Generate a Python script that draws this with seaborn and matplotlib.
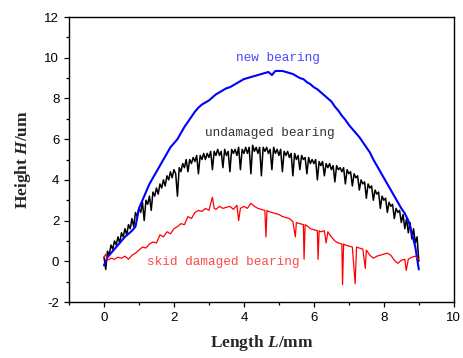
import matplotlib
matplotlib.use('Agg')
import matplotlib.pyplot as plt
from matplotlib.ticker import MultipleLocator
import seaborn as sns

# surface profile of three bearings

# undamaged bearing (black)
black_x = [0.00, 0.05, 0.10, 0.15, 0.20, 0.25, 0.30, 0.35, 0.40, 0.45,
           0.50, 0.55, 0.60, 0.65, 0.70, 0.75, 0.80, 0.85, 0.90, 0.95,
           1.00, 1.05, 1.10, 1.15, 1.20, 1.25, 1.30, 1.35, 1.40, 1.45,
           1.50, 1.55, 1.60, 1.65, 1.70, 1.75, 1.80, 1.85, 1.90, 1.95,
           2.00, 2.05, 2.10, 2.15, 2.20, 2.25, 2.30, 2.35, 2.40, 2.45,
           2.50, 2.55, 2.60, 2.65, 2.70, 2.75, 2.80, 2.85, 2.90, 2.95,
           3.00, 3.05, 3.10, 3.15, 3.20, 3.25, 3.30, 3.35, 3.40, 3.45,
           3.50, 3.55, 3.60, 3.65, 3.70, 3.75, 3.80, 3.85, 3.90, 3.95,
           4.00, 4.05, 4.10, 4.15, 4.20, 4.25, 4.30, 4.35, 4.40, 4.45,
           4.50, 4.55, 4.60, 4.65, 4.70, 4.75, 4.80, 4.85, 4.90, 4.95,
           5.00, 5.05, 5.10, 5.15, 5.20, 5.25, 5.30, 5.35, 5.40, 5.45,
           5.50, 5.55, 5.60, 5.65, 5.70, 5.75, 5.80, 5.85, 5.90, 5.95,
           6.00, 6.05, 6.10, 6.15, 6.20, 6.25, 6.30, 6.35, 6.40, 6.45,
           6.50, 6.55, 6.60, 6.65, 6.70, 6.75, 6.80, 6.85, 6.90, 6.95,
           7.00, 7.05, 7.10, 7.15, 7.20, 7.25, 7.30, 7.35, 7.40, 7.45,
           7.50, 7.55, 7.60, 7.65, 7.70, 7.75, 7.80, 7.85, 7.90, 7.95,
           8.00, 8.05, 8.10, 8.15, 8.20, 8.25, 8.30, 8.35, 8.40, 8.45,
           8.50, 8.55, 8.60, 8.65, 8.70, 8.75, 8.80, 8.85, 8.90, 8.95,
           9.00]
black_h = [0.2, -0.4, 0.5, 0.3, 0.8, 0.6, 1.0, 0.8, 1.2, 0.9,
           1.4, 1.2, 1.6, 1.3, 1.8, 1.6, 2.1, 1.7, 2.4, 2.2,
           2.6, 2.4, 2.9, 2.0, 3.0, 2.8, 3.2, 2.5, 3.4, 3.2,
           3.6, 3.3, 3.8, 3.6, 4.0, 3.7, 4.2, 4.0, 4.4, 4.1,
           4.5, 4.3, 3.2, 4.6, 4.4, 4.8, 4.6, 5.0, 4.4, 5.0,
           4.8, 5.1, 4.9, 5.2, 4.3, 5.2, 5.0, 5.3, 5.0, 5.3,
           5.1, 5.4, 4.5, 5.4, 5.2, 5.5, 5.2, 5.4, 4.6, 5.5,
           5.2, 5.4, 4.4, 5.5, 5.3, 5.5, 5.2, 5.6, 4.5, 5.5,
           5.3, 5.6, 5.3, 5.6, 4.3, 5.7, 5.4, 5.6, 5.3, 5.6,
           4.2, 5.6, 5.4, 5.6, 5.3, 5.5, 4.5, 5.6, 5.3, 5.5,
           5.2, 5.5, 4.4, 5.4, 5.2, 5.4, 5.1, 5.3, 4.2, 5.3,
           5.0, 5.2, 4.5, 5.2, 5.0, 5.1, 4.3, 5.1, 4.8, 5.0,
           4.8, 5.0, 4.0, 4.9, 4.7, 4.9, 4.2, 4.8, 4.6, 4.8,
           4.5, 4.7, 3.9, 4.7, 4.5, 4.6, 4.4, 4.6, 3.8, 4.5,
           4.3, 4.4, 3.7, 4.3, 4.1, 4.2, 3.5, 4.0, 3.8, 3.9,
           3.1, 3.8, 3.6, 3.7, 3.0, 3.5, 3.3, 3.4, 2.6, 3.2,
           3.0, 3.1, 2.4, 2.9, 2.7, 2.8, 2.1, 2.6, 2.4, 2.5,
           1.9, 2.3, 1.6, 2.1, 1.4, 1.9, 1.1, 1.6, 0.9, 1.2,
           0.0]

# new bearing (blue)
blue_x = [0.0, 0.1, 0.2, 0.3, 0.4, 0.5, 0.6, 0.7, 0.8, 0.9,
          1.0, 1.1, 1.2, 1.3, 1.4, 1.5, 1.6, 1.7, 1.8, 1.9,
          2.0, 2.1, 2.2, 2.3, 2.4, 2.5, 2.6, 2.7, 2.8, 2.9,
          3.0, 3.1, 3.2, 3.3, 3.4, 3.5, 3.6, 3.7, 3.8, 3.9,
          4.0, 4.1, 4.2, 4.3, 4.4, 4.5, 4.6, 4.7, 4.8, 4.9,
          5.0, 5.1, 5.2, 5.3, 5.4, 5.5, 5.6, 5.7, 5.8, 5.9,
          6.0, 6.1, 6.2, 6.3, 6.4, 6.5, 6.6, 6.7, 6.8, 6.9,
          7.0, 7.1, 7.2, 7.3, 7.4, 7.5, 7.6, 7.7, 7.8, 7.9,
          8.0, 8.1, 8.2, 8.3, 8.4, 8.5, 8.6, 8.7, 8.8, 8.9,
          9.0]
blue_h = [-0.2, 0.2, 0.4, 0.6, 0.8, 1.0, 1.2, 1.35, 1.5, 1.7,
          2.6, 3.0, 3.4, 3.8, 4.1, 4.4, 4.7, 5.0, 5.3, 5.6,
          5.8, 6.0, 6.3, 6.6, 6.85, 7.1, 7.35, 7.55, 7.7, 7.8,
          7.9, 8.05, 8.2, 8.3, 8.4, 8.5, 8.55, 8.65, 8.75, 8.85,
          8.95, 9.0, 9.05, 9.1, 9.15, 9.2, 9.25, 9.3, 9.15, 9.35,
          9.35, 9.35, 9.3, 9.25, 9.2, 9.1, 9.0, 8.95, 8.8, 8.7,
          8.55, 8.45, 8.3, 8.15, 8.0, 7.85, 7.6, 7.4, 7.15, 6.95,
          6.7, 6.5, 6.3, 6.1, 5.85, 5.6, 5.35, 5.0, 4.7, 4.4,
          4.1, 3.8, 3.5, 3.2, 2.9, 2.6, 2.35, 2.0, 1.4, 0.7,
          -0.4]

# skid damaged bearing (red)
red_x = [0.0, 0.05, 0.1, 0.2, 0.3, 0.4, 0.5, 0.6, 0.7, 0.8, 0.9,
         1.0, 1.1, 1.2, 1.3, 1.4, 1.5, 1.6, 1.7, 1.8, 1.9,
         2.0, 2.1, 2.2, 2.3, 2.4, 2.5, 2.6, 2.7, 2.8, 2.9,
         3.0, 3.1, 3.15, 3.2, 3.3, 3.4, 3.5, 3.6, 3.7, 3.8, 3.85, 3.9,
         4.0, 4.1, 4.2, 4.3, 4.4, 4.5, 4.6, 4.63, 4.66, 4.7, 4.8, 4.9,
         5.0, 5.1, 5.2, 5.3, 5.4, 5.47, 5.5, 5.6, 5.7, 5.72, 5.75, 5.8, 5.9,
         6.0, 6.1, 6.12, 6.15, 6.2, 6.3, 6.35, 6.4, 6.5, 6.6, 6.7, 6.8, 6.82, 6.85, 6.9,
         7.0, 7.1, 7.18, 7.22, 7.3, 7.4, 7.47, 7.5, 7.6, 7.7, 7.8, 7.9,
         8.0, 8.1, 8.2, 8.3, 8.4, 8.5, 8.6, 8.64, 8.7, 8.8, 8.9, 9.0]
red_h = [0.2, 0.35, 0.05, 0.15, 0.1, 0.2, 0.15, 0.25, 0.1, 0.3, 0.4,
         0.55, 0.7, 0.65, 0.85, 0.95, 0.9, 1.3, 1.2, 1.45, 1.35,
         1.6, 1.7, 1.85, 1.8, 2.2, 2.1, 2.4, 2.5, 2.45, 2.6,
         2.5, 3.15, 2.6, 2.55, 2.7, 2.6, 2.65, 2.7, 2.55, 2.75, 2.0, 2.6,
         2.7, 2.6, 2.85, 2.7, 2.6, 2.55, 2.5, 1.2, 2.5, 2.45, 2.4, 2.35,
         2.3, 2.2, 2.15, 2.1, 1.95, 1.2, 1.9, 1.85, 1.8, 0.1, 1.8, 1.75, 1.6,
         1.55, 1.5, 0.1, 1.5, 1.45, 1.5, 0.9, 1.45, 1.2, 1.0, 0.9, 0.85, -1.15, 0.85, 0.8,
         0.75, 0.7, -1.1, 0.7, 0.65, 0.6, -0.35, 0.55, 0.3, 0.15, 0.25, 0.3,
         0.35, 0.4, 0.3, 0.05, -0.1, 0.05, 0.1, -0.45, 0.1, 0.2, 0.25, 0.1]

sns.set_style('ticks')
plt.rcParams['font.family'] = ['Liberation Sans', 'DejaVu Sans']
plt.rcParams['axes.unicode_minus'] = False
plt.rcParams['mathtext.fontset'] = 'custom'
plt.rcParams['mathtext.it'] = 'Liberation Serif:italic:bold'
plt.rcParams['mathtext.rm'] = 'Liberation Serif:bold'

fig, ax = plt.subplots(figsize=(4.64, 3.58), dpi=100)
fig.subplots_adjust(left=0.1487, right=0.978, top=0.9525, bottom=0.1564)

sns.lineplot(x=black_x, y=black_h, ax=ax, color='black', lw=1.1, sort=False, estimator=None)
sns.lineplot(x=blue_x, y=blue_h, ax=ax, color='#0000ff', lw=1.5, sort=False, estimator=None)
sns.lineplot(x=red_x, y=red_h, ax=ax, color='#ff0000', lw=0.9, sort=False, estimator=None)

ax.set_xlim(-1, 10)
ax.set_ylim(-2, 12)
ax.set_xticks([0, 2, 4, 6, 8, 10])
ax.set_yticks([-2, 0, 2, 4, 6, 8, 10, 12])
ax.xaxis.set_minor_locator(MultipleLocator(1))
ax.yaxis.set_minor_locator(MultipleLocator(1))
ax.tick_params(which='both', direction='out', color='black', width=0.9,
               top=False, right=False, labelsize=9.5, labelcolor='black')
ax.tick_params(which='major', length=3.5, pad=3.5)
ax.tick_params(which='minor', length=2)
for s in ax.spines.values():
    s.set_color('black')
    s.set_linewidth(1.0)

ax.set_xlabel('Length $L$/mm', fontfamily='Liberation Serif', fontweight='bold',
              fontsize=12.5, labelpad=7)
ax.set_ylabel('Height $H$/um', fontfamily='Liberation Serif', fontweight='bold',
              fontsize=12.5, labelpad=8)

ax.text(4.98, 10.0, 'new bearing', color='#4848ff', fontsize=9.2,
        fontfamily='Liberation Mono', ha='center', va='center')
ax.text(4.73, 6.3, 'undamaged bearing', color='#333333', fontsize=9.2,
        fontfamily='Liberation Mono', ha='center', va='center')
ax.text(3.41, -0.03, 'skid damaged bearing', color='#ff4848', fontsize=9.2,
        fontfamily='Liberation Mono', ha='center', va='center')

fig.savefig('out.png', dpi=100)
